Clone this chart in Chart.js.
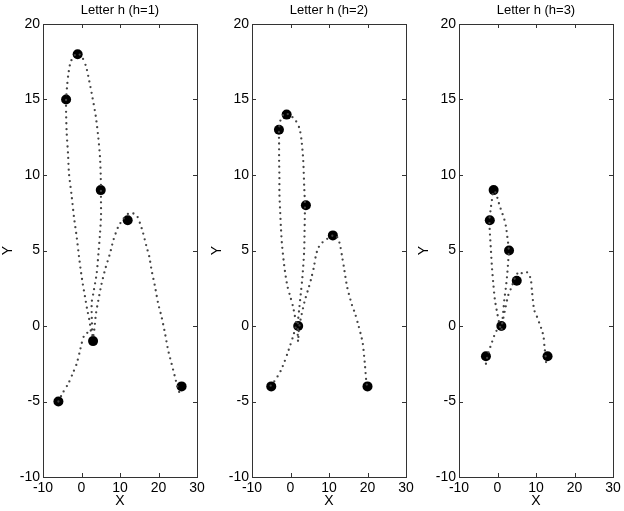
<!DOCTYPE html>
<html>
<head>
<meta charset="utf-8">
<script src="https://cdn.jsdelivr.net/npm/chart.js@4.4.1/dist/chart.umd.min.js"></script>
<style>
  body { margin: 0; background: #fff; }
  .panel { position: absolute; top: 0; }
</style>
</head>
<body>
<div class="panel" style="left:0px"><canvas id="c1" width="208" height="511"></canvas></div>
<div class="panel" style="left:209px"><canvas id="c2" width="208" height="511"></canvas></div>
<div class="panel" style="left:416px"><canvas id="c3" width="208" height="511"></canvas></div>
<script>
// axis ticks shared by all three panels
const xTicks = [-10, 0, 10, 20, 30];
const yTicks = [-10, -5, 0, 5, 10, 15, 20];
const titles = ['Letter h (h=1)', 'Letter h (h=2)', 'Letter h (h=3)'];

// h=1
const curve1X = [-6, -4.8, -3.4, -2.2, -1.25, -0.5, 0.05, 0.65, 1.5, 2.4, 2.0, 1.5, 0.9, 0.3, -0.2, -0.65, -1.25, -1.95, -2.55, -3.25, -3.5, -3.85, -4.0, -4.0, -3.7, -3.4, -2.8, -1.7, -1.0, 0.05, 1.17, 2.03, 2.8, 3.7, 4.36, 4.8, 5.0, 5.06, 5.06, 4.8, 4.4, 3.95, 3.1, 2.65, 2.7, 2.9, 3.25, 3.77, 4.36, 5.2, 6.2, 7.4, 8.3, 9.6, 10.9, 12.2, 13.5, 14.5, 15.2, 15.9, 16.9, 17.6, 18.2, 19.1, 19.9, 20.8, 21.7, 22.5, 23.4, 24.3, 25.1, 25.6];
const curve1Y = [-5, -4.4, -3.8, -3.1, -2.5, -1.75, -1.15, -0.66, -0.45, -0.45, 0.45, 1.06, 1.95, 2.83, 3.7, 4.6, 5.9, 7.2, 8.6, 10.1, 11.4, 12.8, 14.1, 15.0, 16.0, 16.7, 17.5, 17.95, 18.05, 17.85, 17.2, 16.2, 15.2, 13.9, 12.5, 11.2, 9.9, 8.3, 7.2, 6.1, 4.8, 3.5, 2.2, 1.55, 0.3, -0.8, -0.4, 0.84, 1.68, 2.78, 3.8, 4.8, 5.7, 6.6, 7.1, 7.45, 7.45, 7.25, 6.8, 6.25, 5.25, 4.6, 3.7, 2.6, 1.5, 0.6, -0.5, -1.6, -2.5, -3.4, -4.2, -4.5];
const ctrl1X = [-6, -4, -1, 5, 3, 12, 26];
const ctrl1Y = [-5, 15, 18, 9, -1, 7, -4];

// h=2
const curve2X = [-5.15, -4.46, -3.4, -2.43, -1.55, -0.77, -0.05, 0.66, 1.27, 1.55, 1.08, 0.66, -0.05, -0.77, -1.37, -1.8, -2.24, -2.5, -2.7, -2.88, -2.88, -2.96, -2.96, -3.0, -2.7, -2.24, -1.8, -1.2, -0.5, 0.4, 1.27, 2.32, 2.85, 3.3, 3.56, 3.75, 3.72, 3.64, 3.56, 3.3, 3.03, 2.77, 2.5, 2.24, 1.98, 1.87, 1.98, 2.15, 2.6, 3.64, 4.8, 5.5, 6.1, 6.54, 7.15, 8.05, 9.18, 10.3, 11.2, 11.9, 12.5, 12.96, 13.4, 13.85, 14.7, 15.96, 16.8, 17.5, 18.2, 18.77, 19.3, 19.7, 20.0];
const curve2Y = [-3.95, -3.75, -3.36, -2.91, -2.36, -1.81, -1.26, -0.7, -0.15, 0.1, 0.73, 1.28, 1.94, 2.6, 3.49, 4.37, 5.48, 6.58, 7.68, 8.79, 9.89, 11.0, 12.1, 13.0, 13.53, 13.86, 14.0, 14.1, 14.0, 13.85, 13.64, 13.09, 12.32, 11.0, 9.23, 8.06, 7.24, 6.14, 5.03, 3.93, 3.05, 2.38, 1.72, 1.06, 0.4, -0.48, -1.04, -0.3, 0.4, 1.61, 2.6, 3.26, 3.93, 4.59, 5.14, 5.48, 5.7, 5.91, 6.0, 5.96, 5.7, 5.25, 4.6, 3.93, 2.6, 1.39, 0.8, 0.17, -0.5, -1.15, -2.47, -3.7, -4.1];
const ctrl2X = [-5, -3, -1, 4, 2, 11, 20];
const ctrl2Y = [-4, 13, 14, 8, 0, 6, -4];

// h=3
const curve3X = [-3.0, -2.6, -2.15, -1.53, -0.93, -0.4, 0.2, 0.7, 0.38, -0.06, -0.67, -1.1, -1.45, -1.71, -1.97, -2.1, -1.8, -1.45, -1.0, -0.4, 0.12, 0.64, 1.25, 1.76, 2.2, 2.55, 2.9, 2.8, 2.55, 2.2, 1.76, 1.5, 1.25, 1.0, 1.25, 1.5, 2.13, 2.81, 3.7, 4.4, 5.0, 5.43, 6.3, 7.18, 8.04, 8.67, 8.93, 9.19, 9.53, 10.24, 10.9, 11.5, 11.96, 12.2, 12.6, 12.6];
const curve3Y = [-2.5, -2.0, -1.6, -1.15, -0.7, -0.38, -0.15, -0.1, 0.28, 0.84, 1.72, 2.83, 3.93, 5.03, 6.14, 7.0, 7.68, 8.34, 8.95, 8.79, 8.34, 7.9, 7.46, 7.07, 6.58, 5.91, 5.1, 4.37, 3.49, 2.6, 1.72, 0.95, 0.28, -0.4, 0.2, 0.51, 1.28, 2.05, 2.6, 3.1, 3.38, 3.6, 3.5, 3.6, 3.49, 3.05, 2.38, 1.72, 1.06, 0.62, 0.17, -0.26, -0.7, -1.37, -2.25, -2.45];
const ctrl3X = [-3, -2, -1, 3, 1, 5, 13];
const ctrl3Y = [-2, 7, 9, 5, 0, 3, -2];

const panels = [
    { id: 'c1', cx: curve1X, cy: curve1Y, px: ctrl1X, py: ctrl1Y },
    { id: 'c2', cx: curve2X, cy: curve2Y, px: ctrl2X, py: ctrl2Y },
    { id: 'c3', cx: curve3X, cy: curve3Y, px: ctrl3X, py: ctrl3Y }
];

Chart.defaults.font.family = 'Arial, "Liberation Sans", sans-serif';
Chart.defaults.font.size = 13;
Chart.defaults.color = '#000';

function toPoints(xs, ys) {
    return xs.map((x, i) => ({ x: x, y: ys[i] }));
}

// matlab style box with inward tick marks, title centred over the plot box
const boxTicks = {
    id: 'boxTicks',
    afterDraw(chart, args, opts) {
        const ctx = chart.ctx;
        const a = chart.chartArea;
        const xs = chart.scales.x, ys = chart.scales.y;
        ctx.save();
        ctx.strokeStyle = '#333';
        ctx.lineWidth = 1;
        ctx.strokeRect(a.left + 0.5, a.top + 0.5, a.right - a.left, a.bottom - a.top);
        ctx.beginPath();
        xs.ticks.forEach(t => {
            const p = Math.round(xs.getPixelForValue(t.value)) + 0.5;
            ctx.moveTo(p, a.bottom); ctx.lineTo(p, a.bottom - 4);
            ctx.moveTo(p, a.top); ctx.lineTo(p, a.top + 4);
        });
        ys.ticks.forEach(t => {
            const p = Math.round(ys.getPixelForValue(t.value)) + 0.5;
            ctx.moveTo(a.left, p); ctx.lineTo(a.left + 4, p);
            ctx.moveTo(a.right, p); ctx.lineTo(a.right - 4, p);
        });
        ctx.stroke();

        ctx.fillStyle = '#000';
        ctx.font = '13px Arial, "Liberation Sans", sans-serif';
        ctx.textAlign = 'center';
        ctx.textBaseline = 'middle';
        ctx.fillText(opts.text, (a.left + a.right) / 2, 10);
        ctx.restore();
    }
};

panels.forEach((p, i) => {
    new Chart(document.getElementById(p.id), {
        type: 'scatter',
        data: {
            datasets: [{
                data: toPoints(p.cx, p.cy),
                showLine: true,
                pointRadius: 0,
                borderColor: '#444',
                borderWidth: 2.3,
                borderDash: [0, 5.8],
                borderCapStyle: 'round',
                tension: 0.25
            }, {
                data: toPoints(p.px, p.py),
                pointRadius: 5,
                pointBorderWidth: 0,
                pointBackgroundColor: '#000',
                pointBorderColor: '#000',
                showLine: false
            }]
        },
        options: {
            responsive: false,
            animation: false,
            layout: { padding: { left: 0, right: 11, top: 24, bottom: 0 } },
            plugins: {
                legend: { display: false },
                tooltip: { enabled: false },
                boxTicks: { text: titles[i] }
            },
            scales: {
                x: {
                    type: 'linear',
                    min: xTicks[0],
                    max: xTicks[xTicks.length - 1],
                    afterBuildTicks: s => { s.ticks = xTicks.map(v => ({ value: v })); },
                    grid: { display: false, drawTicks: false },
                    border: { display: false },
                    ticks: { padding: 3, maxRotation: 0, font: { size: 14 } },
                    title: { display: true, text: 'X', font: { size: 14 }, padding: { top: 0, bottom: 1 } },
                    afterFit: s => { s.height = 34; }
                },
                y: {
                    type: 'linear',
                    min: yTicks[0],
                    max: yTicks[yTicks.length - 1],
                    afterBuildTicks: s => { s.ticks = yTicks.map(v => ({ value: v })); },
                    grid: { display: false, drawTicks: false },
                    border: { display: false },
                    ticks: { padding: 3, font: { size: 14 } },
                    title: { display: true, text: 'Y', font: { size: 14 }, padding: { top: 0, bottom: 0 } },
                    afterFit: s => { s.width = 43; }
                }
            }
        },
        plugins: [boxTicks]
    });
});
</script>
</body>
</html>
